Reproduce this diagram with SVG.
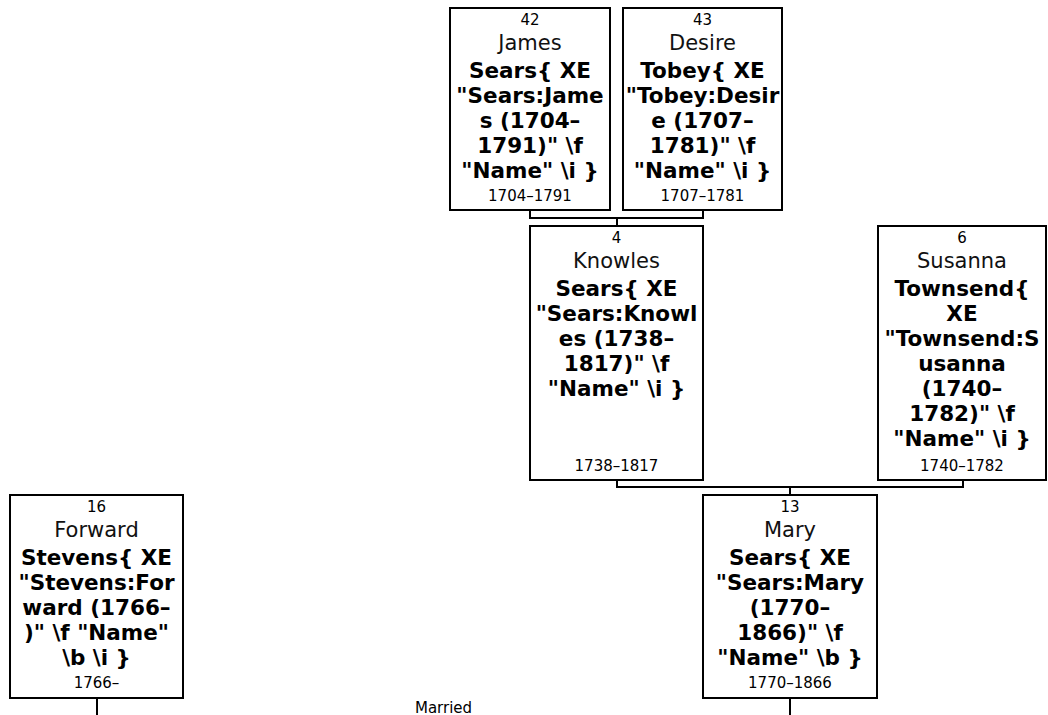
<svg xmlns="http://www.w3.org/2000/svg" width="1048" height="715" viewBox="0 0 1048 715">
<style>
.box{fill:#fff;stroke:#000;stroke-width:2}
.ln{fill:none;stroke:#000;stroke-width:2}
text{font-family:"DejaVu Sans",Verdana,sans-serif;fill:#000;text-anchor:middle}
.num{font-size:15px}
.giv{font-size:21px;fill:#111}
.sur{font-size:21.5px;font-weight:bold}
.dt{font-size:15px}
</style>
<rect width="1048" height="715" fill="#fff"/>
<g id="connectors">
<path class="ln" d="M530,210 V218 H703 V210"/>
<path class="ln" d="M617,218 V226"/>
<path class="ln" d="M617,480 V487 H963 V480"/>
<path class="ln" d="M790,487 V495"/>
<path class="ln" d="M97,698 V715"/>
<path class="ln" d="M790,698 V715"/>
</g>
<g id="n42">
<rect class="box" x="450" y="8" width="160" height="202"/>
<text class="num" x="530" y="25">42</text>
<text class="giv" x="530" y="50">James</text>
<text class="sur" x="530" y="78">Sears{ XE</text>
<text class="sur" x="530" y="103">"Sears:Jame</text>
<text class="sur" x="530" y="128">s (1704–</text>
<text class="sur" x="530" y="153">1791)" \f</text>
<text class="sur" x="530" y="178">"Name" \i }</text>
<text class="dt" x="530" y="200.5">1704–1791</text>
</g>
<g id="n43">
<rect class="box" x="623" y="8" width="159" height="202"/>
<text class="num" x="702.5" y="25">43</text>
<text class="giv" x="702.5" y="50">Desire</text>
<text class="sur" x="702.5" y="78">Tobey{ XE</text>
<text class="sur" x="702.5" y="103">"Tobey:Desir</text>
<text class="sur" x="702.5" y="128">e (1707–</text>
<text class="sur" x="702.5" y="153">1781)" \f</text>
<text class="sur" x="702.5" y="178">"Name" \i }</text>
<text class="dt" x="702.5" y="200.5">1707–1781</text>
</g>
<g id="n4">
<rect class="box" x="530" y="226" width="173" height="254"/>
<text class="num" x="616.5" y="243">4</text>
<text class="giv" x="616.5" y="268">Knowles</text>
<text class="sur" x="616.5" y="296">Sears{ XE</text>
<text class="sur" x="616.5" y="321">"Sears:Knowl</text>
<text class="sur" x="616.5" y="346">es (1738–</text>
<text class="sur" x="616.5" y="371">1817)" \f</text>
<text class="sur" x="616.5" y="396">"Name" \i }</text>
<text class="dt" x="616.5" y="470.5">1738–1817</text>
</g>
<g id="n6">
<rect class="box" x="878" y="226" width="168" height="254"/>
<text class="num" x="962" y="243">6</text>
<text class="giv" x="962" y="268">Susanna</text>
<text class="sur" x="962" y="296">Townsend{</text>
<text class="sur" x="962" y="321">XE</text>
<text class="sur" x="962" y="346">"Townsend:S</text>
<text class="sur" x="962" y="371">usanna</text>
<text class="sur" x="962" y="396">(1740–</text>
<text class="sur" x="962" y="421">1782)" \f</text>
<text class="sur" x="962" y="446">"Name" \i }</text>
<text class="dt" x="962" y="470.5">1740–1782</text>
</g>
<g id="n16">
<rect class="box" x="10" y="495" width="173" height="203"/>
<text class="num" x="96.5" y="512">16</text>
<text class="giv" x="96.5" y="537">Forward</text>
<text class="sur" x="96.5" y="565">Stevens{ XE</text>
<text class="sur" x="96.5" y="590">"Stevens:For</text>
<text class="sur" x="96.5" y="615">ward (1766–</text>
<text class="sur" x="96.5" y="640">)" \f "Name"</text>
<text class="sur" x="96.5" y="665">\b \i }</text>
<text class="dt" x="96.5" y="688">1766–</text>
</g>
<g id="n13">
<rect class="box" x="703" y="495" width="174" height="203"/>
<text class="num" x="790" y="512">13</text>
<text class="giv" x="790" y="537">Mary</text>
<text class="sur" x="790" y="565">Sears{ XE</text>
<text class="sur" x="790" y="590">"Sears:Mary</text>
<text class="sur" x="790" y="615">(1770–</text>
<text class="sur" x="790" y="640">1866)" \f</text>
<text class="sur" x="790" y="665">"Name" \b }</text>
<text class="dt" x="790" y="688">1770–1866</text>
</g>
<g id="marriage">
<text class="dt" x="443.5" y="713">Married</text>
</g>
</svg>
